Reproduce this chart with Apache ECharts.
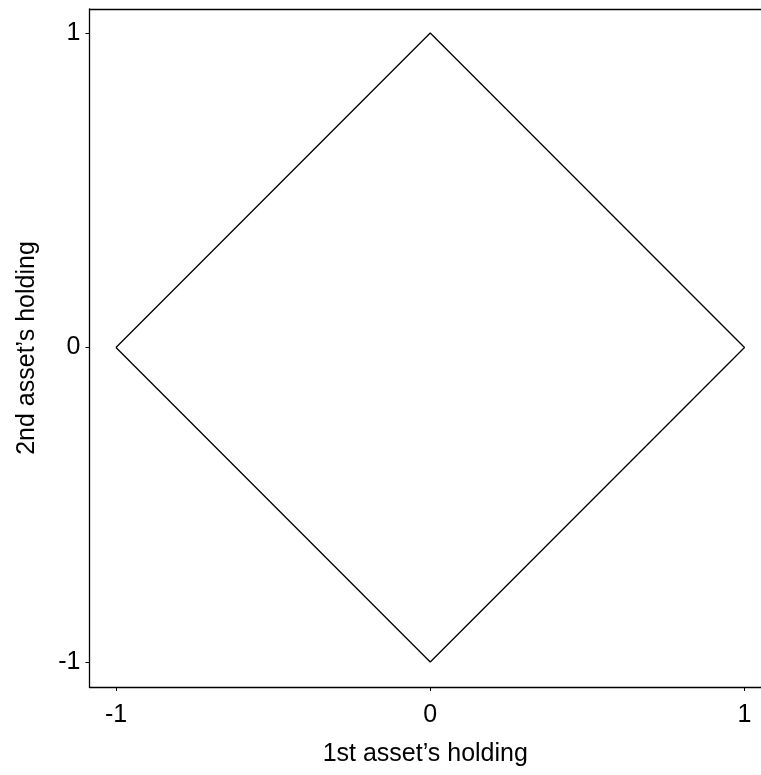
<!DOCTYPE html>
<html>
<head>
<meta charset="utf-8">
<script src="https://cdn.jsdelivr.net/npm/echarts@6/dist/echarts.min.js"></script>
<style>
html,body{margin:0;padding:0;background:#fff;}
#main{width:761px;height:775px;}
</style>
</head>
<body>
<div id="main"></div>
<script>
var xValues = [-1, 0, 1, 0, -1];
var yValues = [0, 1, 0, -1, 0];
var xTicks = [-1, 0, 1];
var yTicks = [-1, 0, 1];
var xTitle = "1st asset\u2019s holding";
var yTitle = "2nd asset\u2019s holding";

var pts = xValues.map(function (x, i) { return [x, yValues[i]]; });
var font = "'Liberation Sans', Arial, Helvetica, sans-serif";

var chart = echarts.init(document.getElementById('main'), null, {renderer: 'canvas'});
chart.setOption({
  animation: false,
  backgroundColor: '#fff',
  grid: {left: 89.5, right: 0, top: 9, bottom: 88, containLabel: false},
  xAxis: [{
    type: 'value', min: -1.0843, max: 1.0525, position: 'bottom',
    axisLine: {show: true, onZero: false, lineStyle: {color: '#000', width: 1.3}},
    axisTick: {show: true, inside: false, length: 4, lineStyle: {color: '#000', width: 1}, customValues: xTicks},
    axisLabel: {show: true, margin: 16, fontSize: 25, color: '#000', fontFamily: font, customValues: xTicks,
      formatter: function (v) { return String(v); }},
    splitLine: {show: false},
    name: xTitle, nameLocation: 'middle', nameGap: 55,
    nameTextStyle: {fontSize: 25, color: '#000', fontFamily: font}
  }, {
    type: 'value', min: -1.0843, max: 1.0525, position: 'top',
    axisLine: {show: true, onZero: false, lineStyle: {color: '#000', width: 1.3}},
    axisTick: {show: false}, axisLabel: {show: false}, splitLine: {show: false}
  }],
  yAxis: [{
    type: 'value', min: -1.0795, max: 1.0763, position: 'left',
    axisLine: {show: true, onZero: false, lineStyle: {color: '#000', width: 1.3}},
    axisTick: {show: true, inside: false, length: 4, lineStyle: {color: '#000', width: 1}, customValues: yTicks},
    axisLabel: {show: true, margin: 9, fontSize: 25, color: '#000', fontFamily: font, customValues: yTicks,
      formatter: function (v) { return String(v); }},
    splitLine: {show: false},
    name: yTitle, nameLocation: 'middle', nameGap: 50,
    nameTextStyle: {fontSize: 25, color: '#000', fontFamily: font}
  }],
  series: [{
    type: 'line', data: pts, xAxisIndex: 0, yAxisIndex: 0,
    showSymbol: false, symbol: 'none',
    lineStyle: {color: '#000', width: 1.3}
  }]
});
</script>
</body>
</html>
